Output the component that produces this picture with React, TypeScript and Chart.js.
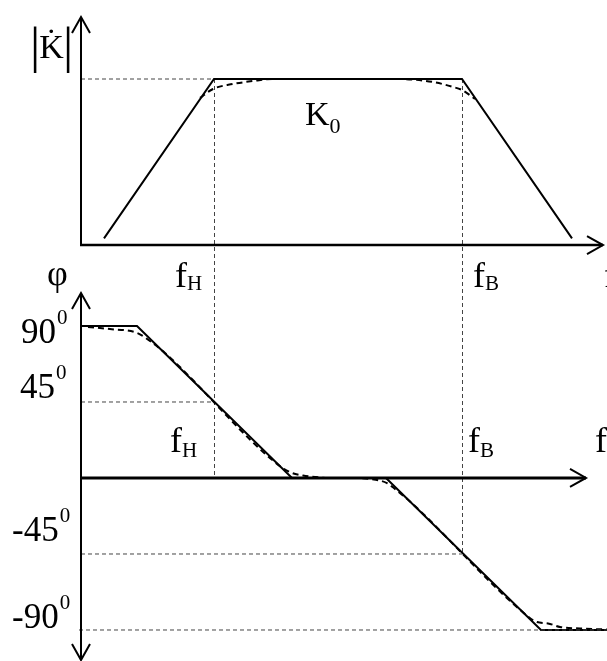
import React, { useEffect, useRef } from "react";
import { Chart, registerables } from "chart.js";

Chart.register(...registerables);

// ---- values (arbitrary frequency units, K relative to K0, phase in degrees)
const fH = 13.3;
const fB = 38.1;
const K0 = 1;

const magAsymptoteF = [2.3, fH, fB, 49.1];
const magAsymptoteK = [0.04, K0, K0, 0.04];

const magRealF = [11.9, 13.2, 15.2, 17.2, 19.2, 25.0, 31.9, 35.2, 37.2, 38.1, 39.4];
const magRealK = [0.886, 0.94, 0.97, 0.988, 1.0, 1.0, 1.0, 0.982, 0.952, 0.934, 0.88];

const phaseAsymptoteF = [0, 5.6, 21.1, 30.5, 46.0, 52.6];
const phaseAsymptoteDeg = [90, 90, 0, 0, -90, -90];

const phaseRealF = [0.7, 2.9, 5.6, 6.9, 8.4, 19.9, 21.1, 22.2, 23.4, 24.9, 26.9, 28.9, 30.6, 31.4, 32.9, 43.9, 45.6, 46.7, 47.9, 49.9, 52.6];
const phaseRealDeg = [89.4, 88.2, 85.9, 81.1, 74, 7, 3.0, 1.5, 0.6, 0, 0, -0.6, -3.0, -6.5, -13.9, -78, -85.3, -86.1, -88.2, -89.1, -89.7];

const phaseTicks = [90, 45, -45, -90];
const phaseTickLabels = ["90", "45", "-45", "-90"];
const degreeMark = "0";

// axis extents (value units)
const kAxisTop = 1.373;
const fAxisEndTop = 52.2;
const fAxisEndBottom = 50.5;
const phiAxisTop = 109.5;
const phiAxisBottom = -107.8;

const SERIF = '"Liberation Serif", "Times New Roman", serif';
const font = (s: number) => `${s}px ${SERIF}`;

const pts = (xs: number[], ys: number[]) => xs.map((x, i) => ({ x, y: ys[i] }));

function arrow(ctx: CanvasRenderingContext2D, x1: number, y1: number, x2: number, y2: number, lw: number) {
  ctx.save();
  ctx.strokeStyle = "#000";
  ctx.lineWidth = lw;
  ctx.setLineDash([]);
  ctx.beginPath();
  ctx.moveTo(x1, y1);
  ctx.lineTo(x2, y2);
  ctx.stroke();
  const ang = Math.atan2(y2 - y1, x2 - x1);
  const L = 16, W = 9;
  const bx = x2 - L * Math.cos(ang), by = y2 - L * Math.sin(ang);
  const nx = -Math.sin(ang), ny = Math.cos(ang);
  ctx.lineWidth = 2;
  ctx.beginPath();
  ctx.moveTo(bx + nx * W, by + ny * W);
  ctx.lineTo(x2, y2);
  ctx.lineTo(bx - nx * W, by - ny * W);
  ctx.stroke();
  ctx.restore();
}

function text(ctx: CanvasRenderingContext2D, s: string, x: number, y: number, size: number) {
  ctx.font = font(size);
  ctx.fillText(s, x, y);
  return ctx.measureText(s).width;
}

const diagramPlugin = {
  id: "diagram",
  beforeDatasetsDraw(chart: any) {
    const ctx: CanvasRenderingContext2D = chart.ctx;
    const sx = chart.scales.x, yK = chart.scales.yK, yP = chart.scales.yP;
    ctx.save();
    ctx.strokeStyle = "#444";
    ctx.lineWidth = 1;
    ctx.setLineDash([4, 3]);
    const xh = Math.round(sx.getPixelForValue(fH)) + 0.5;
    const xb = Math.round(sx.getPixelForValue(fB)) + 0.5;
    ctx.beginPath();
    ctx.moveTo(xh, yK.getPixelForValue(K0));
    ctx.lineTo(xh, yP.getPixelForValue(0));
    ctx.moveTo(xb, yK.getPixelForValue(K0));
    ctx.lineTo(xb, yP.getPixelForValue(-45));
    ctx.stroke();
    ctx.restore();
  },
  afterDatasetsDraw(chart: any) {
    const ctx: CanvasRenderingContext2D = chart.ctx;
    const sx = chart.scales.x, yK = chart.scales.yK, yP = chart.scales.yP;
    const X = (v: number) => sx.getPixelForValue(v);
    const x0 = X(0);
    const k0px = yK.getPixelForValue(0);
    const p0px = yP.getPixelForValue(0);

    // axes
    arrow(ctx, x0, k0px, x0, yK.getPixelForValue(kAxisTop), 2);
    arrow(ctx, x0 - 1, k0px, X(fAxisEndTop), k0px, 2.5);
    arrow(ctx, x0, yP.getPixelForValue(0), x0, yP.getPixelForValue(phiAxisTop), 2);
    arrow(ctx, x0, yP.getPixelForValue(0), x0, yP.getPixelForValue(phiAxisBottom), 2);
    arrow(ctx, x0 - 1, p0px, X(fAxisEndBottom), p0px, 3);

    ctx.save();
    ctx.fillStyle = "#000";
    ctx.textAlign = "left";
    ctx.textBaseline = "alphabetic";

    // |K| label
    const kTop = yK.getPixelForValue(kAxisTop);
    ctx.textAlign = "center";
    text(ctx, "|", x0 - 46, kTop + 45, 51);
    text(ctx, "|", x0 - 13, kTop + 45, 51);
    text(ctx, "K\u0307", x0 - 29.5, kTop + 41, 34);
    ctx.textAlign = "left";

    // K0
    const kx = (X(fH) + X(fB)) / 2 - 33;
    const ky = yK.getPixelForValue(K0) + 46;
    const wK = text(ctx, "K", kx, ky, 34);
    text(ctx, "0", kx + wK, ky + 8, 22);

    // f labels (top)
    const fb1 = k0px + 42;
    let w = text(ctx, "f", X(fH) - 39, fb1, 36);
    text(ctx, "H", X(fH) - 39 + w, fb1 + 3, 21);
    w = text(ctx, "f", X(fB) + 11, fb1, 36);
    text(ctx, "B", X(fB) + 11 + w, fb1 + 3, 21);
    text(ctx, "f", X(fAxisEndTop) + 1, fb1, 36);

    // f labels (bottom)
    const fb2 = p0px - 26;
    w = text(ctx, "f", X(fH) - 44, fb2, 36);
    text(ctx, "H", X(fH) - 44 + w, fb2 + 5, 21);
    w = text(ctx, "f", X(fB) + 6, fb2, 36);
    text(ctx, "B", X(fB) + 6 + w, fb2 + 5, 21);
    text(ctx, "f", X(fAxisEndBottom) + 9, fb2, 36);

    // phi
    text(ctx, "\u03C6", x0 - 34, yP.getPixelForValue(phiAxisTop) - 8, 36);

    // phase tick labels
    const lefts = [60, 61, 69, 69];
    const offs = [17, -4, -13, -2];
    phaseTicks.forEach((v, i) => {
      const lx = x0 - lefts[i];
      const by = yP.getPixelForValue(v) + offs[i];
      const wm = text(ctx, phaseTickLabels[i], lx, by, 35);
      text(ctx, degreeMark, lx + wm + 1, by - 19, 21);
    });
    ctx.restore();
  },
};

export default function App() {
  const ref = useRef<HTMLCanvasElement | null>(null);
  useEffect(() => {
    if (!ref.current) return;
    const solid = { borderColor: "#000", borderWidth: 2, pointRadius: 0, fill: false, tension: 0 };
    const dashedCurve = { borderColor: "#000", borderWidth: 2, borderDash: [6, 4], pointRadius: 0, fill: false, cubicInterpolationMode: "monotone" as const };
    const guide = { borderColor: "#444", borderWidth: 1, borderDash: [4, 3], pointRadius: 0, fill: false };
    const chart = new Chart(ref.current, {
      type: "line",
      data: {
        datasets: [
          { ...guide, label: "K0 level", data: [{ x: 0, y: K0 }, { x: fH, y: K0 }], yAxisID: "yK" },
          { ...guide, label: "45", data: [{ x: 0, y: 45 }, { x: fH, y: 45 }], yAxisID: "yP" },
          { ...guide, label: "-45", data: [{ x: 0, y: -45 }, { x: fB, y: -45 }], yAxisID: "yP" },
          { ...guide, label: "-90", data: [{ x: -0.2, y: -90 }, { x: 52.6, y: -90 }], yAxisID: "yP" },
          { ...solid, label: "|K| asymptote", data: pts(magAsymptoteF, magAsymptoteK), yAxisID: "yK" },
          { ...dashedCurve, label: "|K| real", data: pts(magRealF, magRealK), yAxisID: "yK" },
          { ...solid, label: "phi asymptote", data: pts(phaseAsymptoteF, phaseAsymptoteDeg), yAxisID: "yP" },
          { ...dashedCurve, label: "phi real", data: pts(phaseRealF, phaseRealDeg), yAxisID: "yP" },
        ],
      },
      options: {
        animation: false,
        responsive: false,
        maintainAspectRatio: false,
        devicePixelRatio: 1,
        layout: { padding: 0 },
        plugins: { legend: { display: false }, tooltip: { enabled: false } },
        scales: {
          x: { type: "linear", display: false, min: -8.1, max: 52.6 },
          yK: { type: "linear", display: false, min: -2.506, max: 1.476 },
          yP: { type: "linear", display: false, min: -108.36, max: 283.03 },
        },
      },
      plugins: [diagramPlugin],
    });
    return () => chart.destroy();
  }, []);
  return (
    <div style={{ position: "fixed", left: 0, top: 0, width: 607, height: 661, background: "#fff" }}>
      <canvas ref={ref} width={607} height={661} style={{ width: 607, height: 661, display: "block" }} />
    </div>
  );
}
